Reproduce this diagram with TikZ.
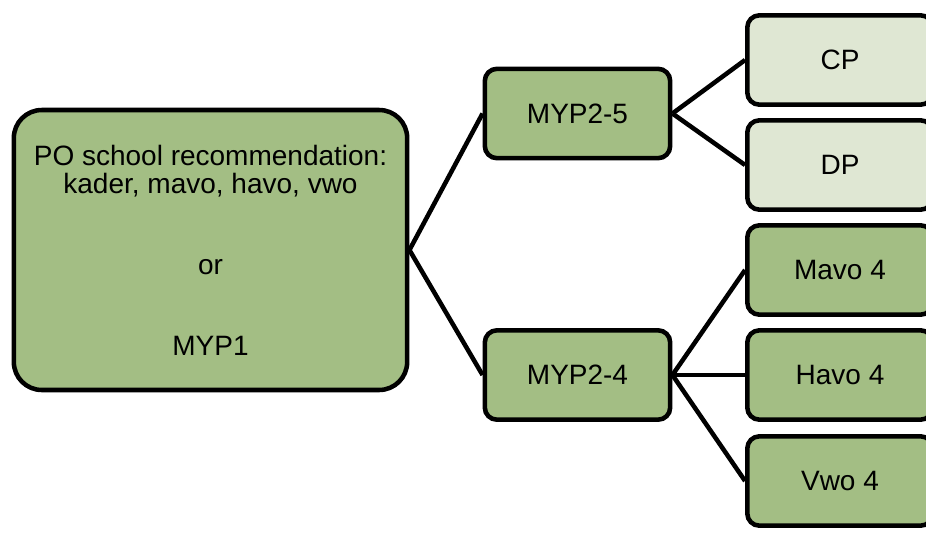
\documentclass[tikz,border=0pt]{standalone}
\usepackage{fontspec}
\setmainfont{Liberation Sans}
\usepackage{color}
\definecolor{LevelDark}{HTML}{A3BE84}
\definecolor{LevelLight}{HTML}{DFE7D3}

\begin{document}
\begin{tikzpicture}[x=0.75pt,y=-0.75pt,
    box/.style={draw=black,line width=3.4pt,fill=LevelDark,rounded corners=9pt,
      minimum width=139pt,minimum height=67pt,align=center,inner sep=0pt,
      font=\fontsize{21}{21}\selectfont},
    rootbox/.style={box,rounded corners=21pt,minimum width=295pt,minimum height=210pt},
    lightbox/.style={box,fill=LevelLight},
    link/.style={line width=3.4pt}]
        \useasboundingbox (0,0) rectangle (926,536);
        \clip (0,0) rectangle (926,536);
        \node[rootbox] (root) at (210.5,250) {PO school recommendation:\\kader, mavo, havo, vwo\\[39.75pt]or\\[39.75pt]MYP1};
        \node[box] (myp25) at (577.5,113.5) {MYP2-5};
        \node[box] (myp24) at (577.5,375) {MYP2-4};
        \node[lightbox] (cp) at (840,60) {CP};
        \node[lightbox] (dp) at (840,165) {DP};
        \node[box] (mavo) at (840,270) {Mavo 4};
        \node[box] (havo) at (840,375) {Havo 4};
        \node[box] (vwo) at (840,481) {Vwo 4};
        \draw[link] (root.east) -- (myp25.west);
        \draw[link] (root.east) -- (myp24.west);
        \draw[link] (myp25.east) -- (cp.west);
        \draw[link] (myp25.east) -- (dp.west);
        \draw[link] (myp24.east) -- (mavo.west);
        \draw[link] (myp24.east) -- (havo.west);
        \draw[link] (myp24.east) -- (vwo.west);
      \end{tikzpicture}
\end{document}
